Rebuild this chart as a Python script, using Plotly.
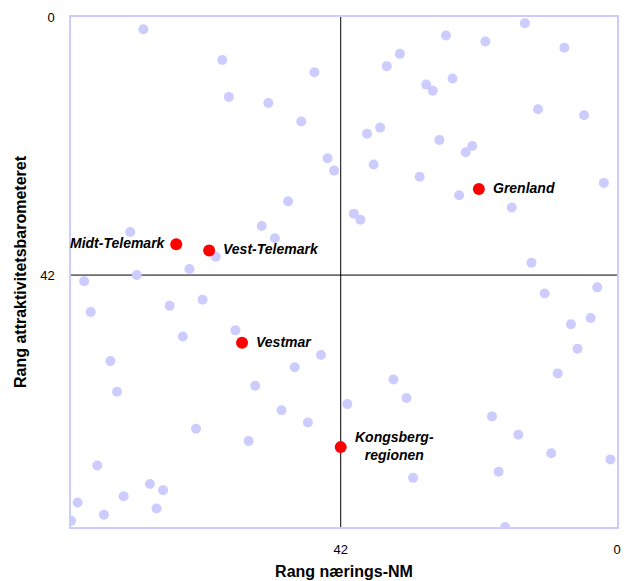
import plotly.graph_objects as go

# Rank values (x: Rang nærings-NM, y: Rang attraktivitetsbarometeret)
other_x = [72, 60, 59, 46, 53, 48, 44, 43, 33, 35, 29, 28, 38, 36, 37, 30, 14, 26, 20, 8,
           25, 12, 5, 27, 22, 23, 2, 74, 65, 61, 81, 73, 80, 68, 63, 66, 58, 50, 54, 52,
           40, 39, 45, 24, 16, 13, 11, 3, 4, 7, 6, 77, 76, 64, 56, 79, 71, 69, 75, 82,
           70, 78, 83, 49, 55, 51, 47, 34, 32, 41, 31, 9, 19, 15, 10, 1, 18, 17]
other_y = [2, 7, 13, 9, 14, 17, 23, 25, 6, 8, 11, 12, 19, 18, 24, 26, 1, 3, 4, 5,
           10, 15, 16, 20, 21, 22, 27, 35, 41, 39, 43, 42, 48, 47, 46, 52, 51, 30, 34, 36,
           32, 33, 55, 29, 31, 40, 45, 44, 49, 50, 54, 56, 61, 67, 69, 73, 76, 77, 78, 79,
           80, 81, 82, 57, 60, 64, 66, 59, 62, 63, 75, 58, 65, 68, 71, 72, 74, 83]

hl_names = ["Midt-Telemark", "Vest-Telemark", "Vestmar", "Grenland", "Kongsberg-<br>regionen"]
hl_x = [67, 62, 57, 21, 42]
hl_y = [37, 38, 53, 28, 70]
label_side = ["left", "right", "right", "right", "right"]

x_ticks = [42, 0]
y_ticks = [0, 42]
axis_max = 83
mid = 42

FONT = "Liberation Sans, Arial, sans-serif"

fig = go.Figure()
fig.add_trace(go.Scatter(
    x=other_x, y=other_y, mode="markers",
    marker=dict(color="#ccccff", size=10, line=dict(width=0)),
    hoverinfo="skip", showlegend=False))
fig.add_trace(go.Scatter(
    x=hl_x, y=hl_y, mode="markers",
    marker=dict(color="#ff0000", size=12, line=dict(width=0)),
    text=hl_names, showlegend=False))

for name, x, y, side in zip(hl_names, hl_x, hl_y, label_side):
    fig.add_annotation(
        x=x, y=y, text="<b><i>" + name + "</i></b>", showarrow=False,
        xanchor="right" if side == "left" else "left",
        xshift=-8 if side == "left" else 12,
        yshift=1, align="center",
        font=dict(family=FONT, size=14, color="black"))

# crosshair lines at rank 42
fig.add_shape(type="line", x0=mid, x1=mid, y0=0, y1=axis_max, xref="x", yref="y",
              line=dict(color="black", width=1), layer="below")
fig.add_shape(type="line", x0=0, x1=axis_max, y0=mid, y1=mid, xref="x", yref="y",
              line=dict(color="black", width=1), layer="below")

# page body has an 8px margin, so the figure is sized/offset to compensate
fig.update_layout(
    width=625, height=573,
    margin=dict(l=63, r=16, t=9, b=54),
    paper_bgcolor="white", plot_bgcolor="white",
    font=dict(family=FONT, size=12, color="black"),
    xaxis=dict(range=[axis_max, 0], tickvals=x_ticks, ticktext=[str(v) for v in x_ticks],
               showgrid=False, zeroline=False, showline=True, mirror=True, automargin=False,
               linecolor="#ccccff", linewidth=1.5, ticks="", ticklabelstandoff=10,
               tickfont=dict(size=13),
               title=dict(text="<b>Rang nærings-NM</b>", font=dict(size=16), standoff=9)),
    yaxis=dict(range=[axis_max, 0], tickvals=y_ticks, ticktext=[str(v) for v in y_ticks],
               showgrid=False, zeroline=False, showline=True, mirror=True, automargin=False,
               linecolor="#ccccff", linewidth=1.5, ticks="", ticklabelstandoff=12,
               tickfont=dict(size=13),
               title=dict(text="<b>Rang attraktivitetsbarometeret</b>", font=dict(size=16), standoff=10)),
)

fig.write_html("out.html")
